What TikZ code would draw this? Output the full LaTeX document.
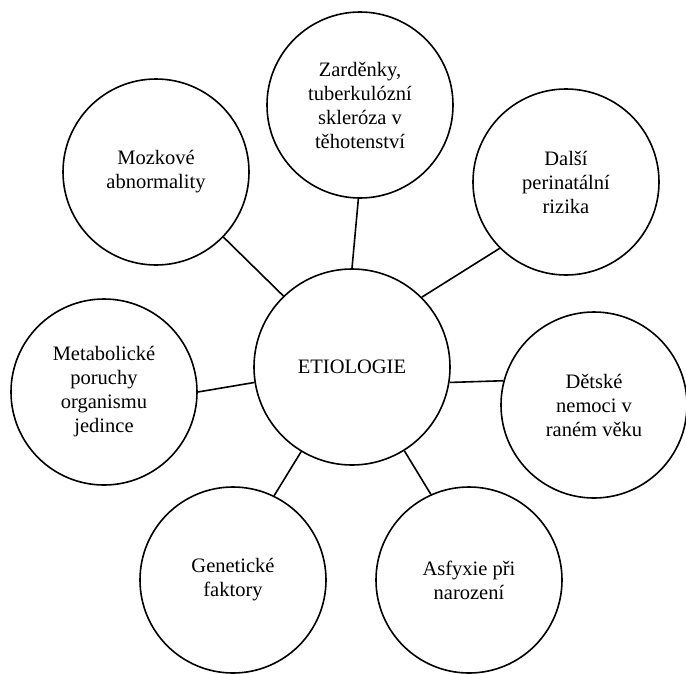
\documentclass[tikz,border=0pt]{standalone}
\usepackage{fontspec}
\setmainfont{Liberation Serif}
\begin{document}
\begin{tikzpicture}[x=1pt,y=-1pt,
  bub/.style={circle,draw=black,line width=1.6pt,inner sep=0pt,minimum size=186pt,align=center,
    font=\fontsize{20.5}{24}\selectfont},
  hub/.style={bub,minimum size=196pt},
  link/.style={line width=1.6pt}]
\useasboundingbox (0,0) rectangle (686,673);
\node[hub] (etio) at (352,367) {ETIOLOGIE};
\node[bub] (zar) at (360,105) {Zarděnky,\\tuberkulózní\\skleróza v\\těhotenství};
\node[bub] (moz) at (156,172) {Mozkové\\abnormality};
\node[bub] (dal) at (566,182) {Další\\perinatální\\rizika};
\node[bub] (met) at (104,392) {Metabolické\\poruchy\\organismu\\jedince};
\node[bub] (det) at (594,405) {Dětské\\nemoci v\\raném věku};
\node[bub] (gen) at (233,580) {Genetické\\faktory};
\node[bub] (asf) at (469,580) {Asfyxie při\\narození};
\draw[link] (etio.90) -- (zar.-91);
\draw[link] (etio.134) -- (moz.-44);
\draw[link] (etio.45) -- (dal.-135);
\draw[link] (etio.189) -- (met.0);
\draw[link] (etio.-9) -- (det.165.5);
\draw[link] (etio.-121.5) -- (gen.64);
\draw[link] (etio.-58.6) -- (asf.114);
\end{tikzpicture}
\end{document}
